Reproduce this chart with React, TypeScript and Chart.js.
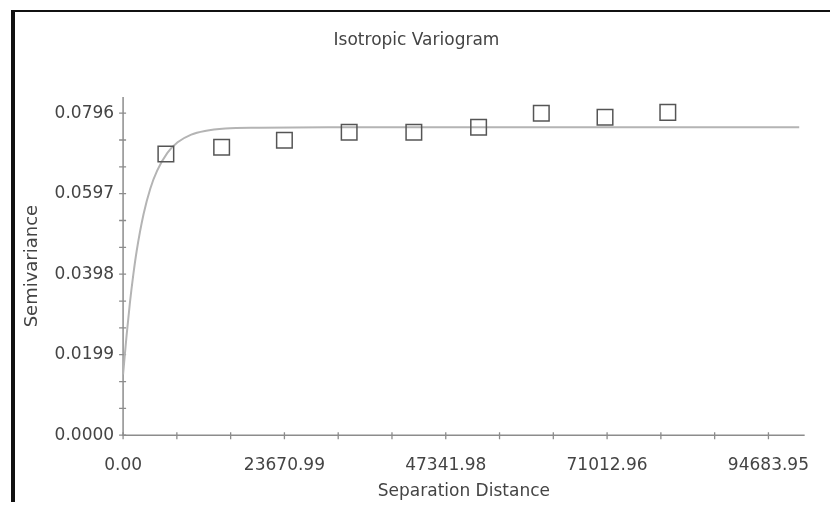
import React, { useEffect, useRef } from "react";
import { Chart, registerables } from "chart.js";

Chart.register(...registerables);

// Tick labels (major ticks)
const xTickLabels = ["0.00", "23670.99", "47341.98", "71012.96", "94683.95"];
const yTickLabels = ["0.0000", "0.0199", "0.0398", "0.0597", "0.0796"];

// Experimental variogram (squares)
const lagDistance = [6280, 14460, 23670, 33170, 42660, 52160, 61360, 70710, 79920];
const semivariance = [0.0695, 0.0712, 0.0729, 0.0749, 0.0749, 0.0761, 0.0796, 0.0786, 0.0798];

// Fitted model curve
const modelDistance = [0, 500, 1000, 1500, 2000, 3000, 4000, 5000, 6500, 8000, 10000, 12000, 15000, 20000, 30000, 50000, 75000, 99200];
const modelValue = [0.015, 0.0244, 0.0327, 0.0397, 0.0456, 0.0546, 0.061, 0.0654, 0.0698, 0.0724, 0.0743, 0.0752, 0.0758, 0.076, 0.0761, 0.0761, 0.0761, 0.0761];

const X_MAX = 100000;
const Y_MAX = 0.0836;

function withMinor(labels: string[]): number[] {
  const majors = labels.map((l) => parseFloat(l));
  const out: number[] = [];
  for (let i = 0; i < majors.length; i++) {
    out.push(majors[i]);
    if (i < majors.length - 1) {
      const step = (majors[i + 1] - majors[i]) / 3;
      out.push(majors[i] + step, majors[i] + 2 * step);
    }
  }
  return out;
}

function labelFor(labels: string[], value: number, eps: number): string {
  for (const l of labels) {
    if (Math.abs(parseFloat(l) - value) < eps) return l;
  }
  return "";
}

const axisPlugin = {
  id: "axisCross",
  beforeDatasetsDraw(chart: any) {
    const { ctx, chartArea, scales } = chart;
    const x = scales.x;
    const y = scales.y;
    ctx.save();
    ctx.strokeStyle = "#8c8c8c";
    ctx.lineWidth = 1.5;
    ctx.beginPath();
    ctx.moveTo(chartArea.left, chartArea.top);
    ctx.lineTo(chartArea.left, chartArea.bottom);
    ctx.lineTo(chartArea.right, chartArea.bottom);
    ctx.stroke();
    ctx.lineWidth = 1.3;
    ctx.beginPath();
    for (const t of y.ticks) {
      const py = y.getPixelForValue(t.value);
      ctx.moveTo(chartArea.left - 4, py);
      ctx.lineTo(chartArea.left + 3, py);
    }
    for (const t of x.ticks) {
      const px = x.getPixelForValue(t.value);
      ctx.moveTo(px, chartArea.bottom - 3);
      ctx.lineTo(px, chartArea.bottom + 4);
    }
    ctx.stroke();
    ctx.restore();
  },
};

export default function App() {
  const ref = useRef<HTMLCanvasElement>(null);

  useEffect(() => {
    if (!ref.current) return;
    const xTicks = withMinor(xTickLabels);
    const yTicks = withMinor(yTickLabels);
    const chart = new Chart(ref.current, {
      type: "scatter",
      data: {
        datasets: [
          {
            label: "Observed",
            data: lagDistance.map((d, i) => ({ x: d, y: semivariance[i] })),
            pointStyle: "rect",
            pointRadius: 11,
            pointHoverRadius: 11,
            pointBorderWidth: 1.5,
            borderColor: "#555555",
            backgroundColor: "rgba(0,0,0,0)",
            showLine: false,
            order: 0,
          },
          {
            label: "Model",
            data: modelDistance.map((d, i) => ({ x: d, y: modelValue[i] })),
            showLine: true,
            borderColor: "#b4b4b4",
            borderWidth: 2,
            pointRadius: 0,
            pointHoverRadius: 0,
            cubicInterpolationMode: "monotone",
            order: 1,
          },
        ],
      },
      options: {
        responsive: false,
        animation: false,
        events: [],
        layout: { padding: { left: 14, right: 19, top: 0, bottom: 0 } },
        font: { family: "'DejaVu Sans', sans-serif" },
        plugins: {
          legend: { display: false },
          tooltip: { enabled: false },
          title: {
            display: true,
            text: "Isotropic Variogram",
            color: "#444444",
            font: { family: "'DejaVu Sans', sans-serif", size: 17, weight: "normal" },
            padding: { top: 22, bottom: 46.6 },
          },
        },
        scales: {
          x: {
            type: "linear",
            min: 0,
            max: X_MAX,
            grid: { display: false, drawTicks: false },
            border: { display: false },
            afterBuildTicks: (scale: any) => {
              scale.ticks = xTicks.map((v) => ({ value: v }));
            },
            ticks: {
              autoSkip: false,
              maxRotation: 0,
              padding: 20,
              color: "#444444",
              font: { family: "'DejaVu Sans', sans-serif", size: 17 },
              callback: (value: any) => labelFor(xTickLabels, Number(value), 1),
            },
            title: {
              display: true,
              text: "Separation Distance",
              color: "#444444",
              font: { family: "'DejaVu Sans', sans-serif", size: 17 },
              padding: { top: -14, bottom: 0 },
            },
          },
          y: {
            type: "linear",
            min: 0,
            max: Y_MAX,
            grid: { display: false, drawTicks: false },
            border: { display: false },
            afterBuildTicks: (scale: any) => {
              scale.ticks = yTicks.map((v) => ({ value: v }));
            },
            ticks: {
              autoSkip: false,
              padding: 9,
              color: "#444444",
              font: { family: "'DejaVu Sans', sans-serif", size: 17 },
              callback: (value: any) => labelFor(yTickLabels, Number(value), 1e-6),
            },
            title: {
              display: true,
              text: "Semivariance",
              color: "#444444",
              font: { family: "'DejaVu Sans', sans-serif", size: 18 },
              padding: { top: 0, bottom: 2 },
            },
          },
        },
      },
      plugins: [axisPlugin],
    } as any);
    return () => chart.destroy();
  }, []);

  return (
    <div style={{ position: "relative", width: 822, height: 494 }}>
      <canvas ref={ref} width={822} height={494} style={{ display: "block" }} />
      <div
        style={{
          position: "absolute",
          left: 3,
          top: 2,
          right: -8,
          bottom: -8,
          borderLeft: "4px solid #111",
          borderTop: "2px solid #111",
          pointerEvents: "none",
        }}
      />
    </div>
  );
}
